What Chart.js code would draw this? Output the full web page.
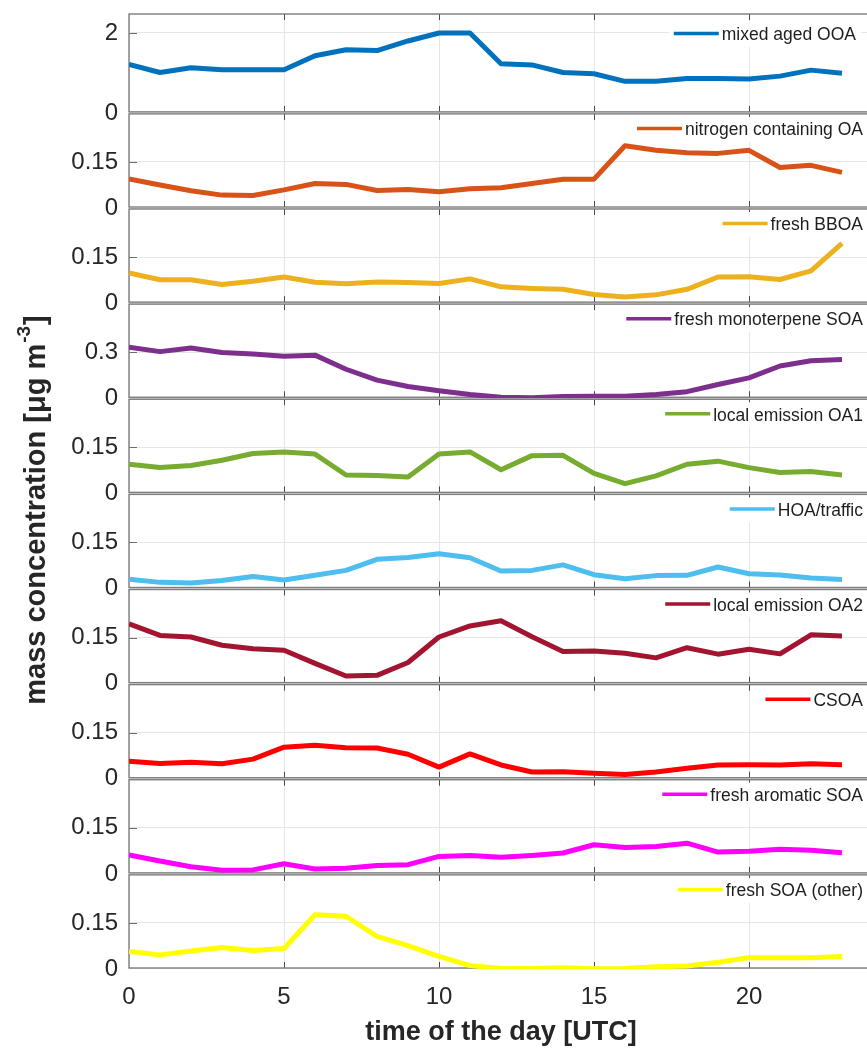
<!DOCTYPE html>
<html><head><meta charset="utf-8">
<script src="https://cdn.jsdelivr.net/npm/chart.js@4.4.1/dist/chart.umd.min.js"></script>
<style>
html,body{margin:0;padding:0;background:#fff;overflow:hidden;}
#wrap{width:867px;height:1052px;overflow:hidden;position:relative;background:#fff;}
canvas{display:block;}
</style></head><body>
<div id="wrap"><canvas id="c" width="900" height="1052"></canvas></div>
<script>
const hours = [0,1,2,3,4,5,6,7,8,9,10,11,12,13,14,15,16,17,18,19,20,21,22,23];
const xTickValues = [0,5,10,15,20];

const seriesNames = ['mixed aged OOA','nitrogen containing OA','fresh BBOA','fresh monoterpene SOA','local emission OA1','HOA/traffic','local emission OA2','CSOA','fresh aromatic SOA','fresh SOA (other)'];
const seriesColors = ['#0072BD','#D95319','#EDB120','#7E2F8E','#77AC30','#4DBEEE','#A2142F','#FF0000','#FF00FF','#FFFF00'];

const mixedAgedOOA = [1.21,1.01,1.13,1.08,1.08,1.08,1.43,1.58,1.56,1.80,2.00,2.00,1.23,1.20,1.01,0.98,0.79,0.79,0.86,0.86,0.85,0.92,1.07,0.99];
const nitrogenOA = [0.095,0.075,0.056,0.042,0.041,0.059,0.080,0.077,0.057,0.060,0.053,0.063,0.066,0.080,0.094,0.094,0.203,0.188,0.180,0.178,0.188,0.132,0.139,0.116];
const freshBBOA = [0.098,0.076,0.076,0.061,0.071,0.085,0.068,0.063,0.069,0.067,0.064,0.079,0.053,0.048,0.045,0.028,0.020,0.027,0.045,0.085,0.086,0.077,0.105,0.195];
const monoterpeneSOA = [0.332,0.304,0.328,0.298,0.289,0.274,0.281,0.189,0.118,0.077,0.049,0.024,0.006,0.004,0.011,0.013,0.013,0.024,0.043,0.090,0.133,0.210,0.244,0.253];
const localOA1 = [0.095,0.084,0.091,0.108,0.130,0.135,0.128,0.060,0.058,0.053,0.128,0.135,0.077,0.123,0.124,0.065,0.032,0.057,0.095,0.105,0.084,0.068,0.071,0.060];
const hoaTraffic = [0.030,0.020,0.018,0.026,0.039,0.028,0.043,0.059,0.095,0.101,0.113,0.100,0.057,0.059,0.077,0.045,0.032,0.042,0.043,0.070,0.048,0.044,0.034,0.029];
const localOA2 = [0.195,0.157,0.152,0.125,0.114,0.109,0.066,0.025,0.027,0.069,0.152,0.188,0.205,0.153,0.105,0.106,0.099,0.084,0.117,0.096,0.112,0.097,0.159,0.155];
const csoa = [0.057,0.050,0.054,0.049,0.064,0.103,0.109,0.101,0.100,0.080,0.038,0.081,0.045,0.022,0.023,0.018,0.014,0.022,0.034,0.045,0.046,0.045,0.049,0.046];
const aromaticSOA = [0.062,0.042,0.023,0.012,0.013,0.033,0.016,0.018,0.027,0.030,0.057,0.060,0.054,0.060,0.068,0.095,0.086,0.089,0.100,0.071,0.074,0.080,0.077,0.069];
const otherSOA = [0.057,0.046,0.059,0.070,0.060,0.067,0.177,0.172,0.106,0.076,0.041,0.011,0.002,0.002,0.004,0.001,0.002,0.007,0.010,0.022,0.037,0.037,0.037,0.041];

const seriesValues = [mixedAgedOOA,nitrogenOA,freshBBOA,monoterpeneSOA,localOA1,hoaTraffic,localOA2,csoa,aromaticSOA,otherSOA];
const yTickValues = [[0,2],[0,0.15],[0,0.15],[0,0.3],[0,0.15],[0,0.15],[0,0.15],[0,0.15],[0,0.15],[0,0.15]];
const yMaxValues = [2.5,0.31,0.31,0.62,0.31,0.31,0.31,0.31,0.31,0.31];

const FONT = "'Liberation Sans', Arial, Helvetica, sans-serif";
const TXT = '#262626';
const N = seriesNames.length;

const datasets = seriesValues.map((vals, i) => ({
  label: seriesNames[i],
  data: vals.map((v, k) => ({x: hours[k], y: v})),
  yAxisID: 'y' + i,
  borderColor: seriesColors[i],
  backgroundColor: seriesColors[i],
  borderWidth: 5,
  pointRadius: 0,
  tension: 0,
  fill: false,
  borderJoinStyle: 'round',
  borderCapStyle: 'butt'
}));

const scales = {
  x: {
    type: 'linear', position: 'bottom', min: 0, max: 24,
    afterBuildTicks: s => { s.ticks = xTickValues.map(v => ({value: v})); },
    ticks: {font: {family: FONT, size: 24}, color: TXT, padding: 14, maxRotation: 0, autoSkip: false},
    grid: {color: '#e6e6e6', lineWidth: 1, drawTicks: false},
    border: {display: false},
    title: {display: true, text: 'time of the day [UTC]', color: TXT, font: {family: FONT, size: 27, weight: 'bold'}, padding: {top: 0, bottom: 3}},
    afterFit: s => { s.height = 83; s.paddingLeft = 0; s.paddingRight = 0; }
  }
};
for (let i = 0; i < N; i++) {
  scales['y' + i] = {
    type: 'linear', position: 'left', stack: 'panels', stackWeight: i === 0 ? 1.05 : 1, weight: N - i,
    min: 0, max: yMaxValues[i],
    afterBuildTicks: s => { s.ticks = yTickValues[i].map(v => ({value: v})); },
    ticks: {font: {family: FONT, size: 24}, color: TXT, padding: 11, callback: v => String(v)},
    grid: {color: '#e6e6e6', lineWidth: 1, drawTicks: false},
    border: {display: false},
    afterFit: s => { s.width = 129; s.paddingTop = 0; s.paddingBottom = 0; }
  };
}

const boxPlugin = {
  id: 'boxes',
  beforeDatasetsDraw(chart) {
    const {ctx, chartArea} = chart;
    const xs = chart.scales.x;
    ctx.save();
    for (let i = 0; i < N; i++) {
      const s = chart.scales['y' + i];
      const t = s.top + 1, b = s.bottom - 1;
      // tick marks (inside)
      ctx.strokeStyle = '#4a4a4a';
      ctx.lineWidth = 1;
      xTickValues.forEach(v => {
        if (v === 0) return;
        const px = Math.round(xs.getPixelForValue(v)) + 0.5;
        ctx.beginPath(); ctx.moveTo(px, t); ctx.lineTo(px, t + 6); ctx.stroke();
        ctx.beginPath(); ctx.moveTo(px, b); ctx.lineTo(px, b - 6); ctx.stroke();
      });
      ctx.strokeStyle = '#6e6e6e';
      yTickValues[i].forEach(v => {
        if (v === 0) return;
        const py = Math.round(s.getPixelForValue(v)) + 0.5;
        ctx.beginPath(); ctx.moveTo(chartArea.left, py); ctx.lineTo(chartArea.left + 8, py); ctx.stroke();
      });
      ctx.strokeStyle = '#7d7d7d';
      ctx.lineWidth = 1.4;
      ctx.strokeRect(chartArea.left, t, chartArea.right - chartArea.left, b - t);
    }
    ctx.restore();
  },
  afterDatasetsDraw(chart) {
    const {ctx} = chart;
    ctx.save();
    ctx.font = '17.5px ' + FONT;
    for (let i = 0; i < N; i++) {
      const s = chart.scales['y' + i];
      const top = s.top + (i === 0 ? 5 : 0);
      const tw = ctx.measureText(seriesNames[i]).width;
      const textRight = i === 0 ? 856 : 863;
      const textLeft = textRight - tw;
      const lineEnd = textLeft - 3;
      const lineStart = lineEnd - 45;
      ctx.fillStyle = '#ffffff';
      ctx.fillRect(lineStart - 5, top + 4, textRight - lineStart + 10, 25);
      ctx.strokeStyle = seriesColors[i];
      ctx.lineWidth = 3.5;
      ctx.beginPath(); ctx.moveTo(lineStart, top + 15.5); ctx.lineTo(lineEnd, top + 15.5); ctx.stroke();
      ctx.fillStyle = '#1e1e1e';
      ctx.textBaseline = 'middle';
      ctx.textAlign = 'left';
      ctx.fillText(seriesNames[i], textLeft, top + 17.5);
    }
    ctx.restore();
  },
  afterDraw(chart) {
    const {ctx} = chart;
    ctx.save();
    ctx.translate(45, 510);
    ctx.rotate(-Math.PI / 2);
    const mainFont = 'bold 29px ' + FONT, supFont = 'bold 19px ' + FONT;
    const t1 = 'mass concentration [\u03BCg m', t2 = '-3', t3 = ']';
    ctx.font = mainFont; const w1 = ctx.measureText(t1).width; const w3 = ctx.measureText(t3).width;
    ctx.font = supFont; const w2 = ctx.measureText(t2).width;
    let x0 = -(w1 + w2 + w3 + 2) / 2;
    ctx.fillStyle = TXT; ctx.textBaseline = 'alphabetic'; ctx.textAlign = 'left';
    ctx.font = mainFont; ctx.fillText(t1, x0, 0);
    ctx.font = supFont; ctx.fillText(t2, x0 + w1 + 1, -15);
    ctx.font = mainFont; ctx.fillText(t3, x0 + w1 + w2 + 2, 0);
    ctx.restore();
  }
};

new Chart(document.getElementById('c'), {
  type: 'line',
  data: {datasets},
  options: {
    responsive: false,
    animation: false,
    devicePixelRatio: 1,
    layout: {padding: {top: 13, right: 27, bottom: 0, left: 0}},
    plugins: {legend: {display: false}, tooltip: {enabled: false}},
    scales
  },
  plugins: [boxPlugin]
});
</script>
</body></html>
